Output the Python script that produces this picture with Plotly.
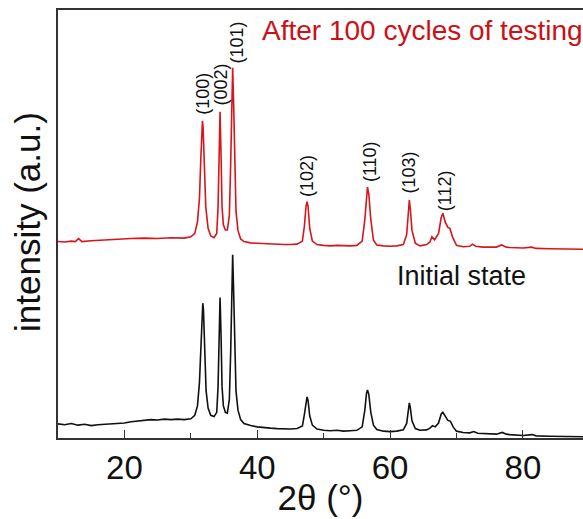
import plotly.graph_objects as go

# ---- data ----
black_x = [10, 11, 12, 13, 14, 15, 16, 17, 18, 19, 20, 21, 22, 23, 24, 25, 26, 27, 28, 29, 30,
           30.6, 31.0, 31.3, 31.5, 31.7, 31.8, 31.9, 32.1, 32.3, 32.6, 33.0, 33.5, 33.9, 34.1,
           34.25, 34.4, 34.55, 34.7, 34.9, 35.2, 35.5, 35.8, 36.0, 36.15, 36.3, 36.45, 36.6,
           36.8, 37.1, 37.5, 38, 39, 40, 41, 42, 43, 44, 45, 46, 46.8, 47.1, 47.35, 47.5,
           47.65, 47.9, 48.3, 49, 50, 51, 52, 53, 54, 55, 55.8, 56.2, 56.45, 56.6, 56.8, 57.1,
           57.5, 58, 59, 60, 61, 62, 62.5, 62.75, 62.9, 63.05, 63.3, 63.8, 64.5, 65.5, 66.0,
           66.4, 66.8, 67.3, 67.7, 67.95, 68.3, 68.7, 69.1, 69.5, 70, 71, 72, 72.6, 73.2, 74,
           75, 76, 76.9, 77.5, 78, 79, 80, 81.4, 82, 84, 86, 88, 89.5]
black_y = [3.3, 3.1, 3.4, 3.0, 3.2, 2.9, 3.1, 3.2, 3.4, 3.4, 3.5, 3.8, 4.0, 4.2, 4.3, 4.2, 4.4, 4.3, 4.4, 4.3, 4.5,
           5.3, 7.5, 13.0, 22.0, 30.0, 31.5, 30.0, 20.0, 11.0, 7.0, 5.3, 5.0, 6.0, 12.0,
           24.0, 32.8, 24.0, 12.0, 7.5, 6.0, 5.8, 9.0, 20.0, 34.0, 42.8, 34.0, 20.0,
           11.0, 6.5, 4.3, 3.4, 2.9, 2.6, 2.4, 2.3, 2.2, 2.1, 2.1, 2.2, 2.8, 5.5, 8.8, 9.6,
           8.8, 5.2, 3.0, 2.1, 1.8, 1.7, 1.8, 1.6, 1.7, 1.8, 2.6, 6.5, 10.4, 11.2, 10.2, 6.0,
           3.0, 2.0, 1.6, 1.5, 1.6, 1.9, 3.4, 7.0, 8.2, 7.1, 4.0, 2.2, 1.8, 1.9, 2.3,
           2.9, 2.6, 3.5, 5.6, 6.0, 5.0, 4.1, 3.9, 2.6, 1.6, 1.3, 1.2, 1.5, 1.1, 1.0,
           0.9, 0.9, 1.3, 0.9, 0.8, 0.7, 0.6, 0.8, 0.5, 0.4, 0.3, 0.3, 0.3]

red_x = [10, 11, 12, 12.6, 13.1, 13.6, 15, 17, 19, 21, 23, 25, 27, 29, 30,
         30.6, 31.0, 31.3, 31.5, 31.65, 31.75, 31.85, 32.0, 32.25, 32.6, 33.0, 33.5, 33.9, 34.1,
         34.25, 34.4, 34.55, 34.7, 34.9, 35.2, 35.5, 35.8, 36.0, 36.15, 36.3, 36.45, 36.6,
         36.8, 37.1, 37.5, 38, 39, 40, 41, 42, 43, 44, 45, 46, 46.8, 47.1, 47.35, 47.5,
         47.65, 47.9, 48.3, 49, 50, 51, 52, 53, 54, 55, 55.8, 56.2, 56.45, 56.6, 56.8, 57.1,
         57.5, 58, 59, 60, 61, 62, 62.5, 62.75, 62.9, 63.05, 63.3, 63.8, 64.5, 65.5, 66.0,
         66.3, 66.7, 67.3, 67.7, 67.95, 68.3, 68.7, 69.0, 69.4, 70, 71, 72, 72.4, 72.9, 74,
         75, 76, 76.8, 77.5, 78, 79, 80, 81.3, 82, 84, 86, 88, 89.5]
red_y = [45.9, 45.8, 46.0, 45.9, 46.6, 45.9, 46.1, 46.3, 46.4, 46.6, 46.7, 46.6, 46.8, 46.7, 47.0,
         47.8, 50.5, 56.0, 65.0, 72.5, 74.1, 72.5, 64.0, 54.0, 49.0, 47.2, 46.8, 47.8, 54.0,
         66.0, 76.2, 66.0, 54.0, 49.8, 48.6, 48.6, 52.0, 64.0, 78.0, 86.5, 78.0, 64.0,
         53.0, 48.5, 46.5, 45.9, 45.6, 45.5, 45.4, 45.3, 45.3, 45.2, 45.2, 45.3, 46.0, 49.5, 54.2, 55.2,
         54.2, 49.0, 46.0, 45.2, 45.0, 44.9, 45.0, 44.9, 44.9, 45.0, 46.0, 51.0, 57.5, 58.6, 57.0, 51.0,
         46.2, 45.1, 44.9, 44.8, 44.9, 45.2, 47.5, 53.5, 55.6, 53.5, 48.5, 45.5, 44.9, 45.2, 45.8,
         47.0, 46.3, 47.8, 51.5, 52.5, 50.5, 49.2, 49.0, 47.0, 45.0, 44.7, 44.8, 45.3, 44.8, 44.6,
         44.6, 44.6, 45.1, 44.6, 44.5, 44.4, 44.4, 44.6, 44.3, 44.2, 44.1, 44.1, 44.1]

peak_labels = ["(100)", "(002)", "(101)", "(102)", "(110)", "(103)", "(112)"]
peak_label_x = [31.8, 34.6, 37.0, 47.5, 57.0, 62.9, 68.3]
peak_label_y = [80.4, 82.7, 92.5, 61.2, 64.5, 62.1, 57.7]

x_ticks = [20, 40, 60, 80]

RED = "#d8141c"
FONT = "Liberation Sans, Arial, sans-serif"

fig = go.Figure()
fig.add_trace(go.Scatter(x=black_x, y=black_y, mode="lines",
                         line=dict(color="#111111", width=1.6), name="Initial state"))
fig.add_trace(go.Scatter(x=red_x, y=red_y, mode="lines",
                         line=dict(color=RED, width=1.6), name="After 100 cycles of testing"))

for t, px, py in zip(peak_labels, peak_label_x, peak_label_y):
    fig.add_annotation(x=px, y=py, xref="x", yref="y", text=t, textangle=-90,
                       showarrow=False, font=dict(size=18, color="#111111", family=FONT))

fig.add_annotation(x=0.385, y=0.953, xref="paper", yref="paper", xanchor="left", yanchor="middle",
                   text="After 100 cycles of testing", showarrow=False,
                   font=dict(size=28, color="#cc1016", family=FONT))
fig.add_annotation(x=0.768, y=0.379, xref="paper", yref="paper", xanchor="center", yanchor="middle",
                   text="Initial state", showarrow=False,
                   font=dict(size=27, color="#111111", family=FONT))
fig.add_annotation(x=-0.057, y=0.505, xref="paper", yref="paper", xanchor="center", yanchor="middle",
                   text="intensity (a.u.)", textangle=-90, showarrow=False,
                   font=dict(size=35, color="#111111", family=FONT))

fig.update_layout(
    width=583, height=519,
    margin=dict(l=58, r=0, t=10, b=81),
    paper_bgcolor="white", plot_bgcolor="white",
    showlegend=False,
    font=dict(family=FONT, color="#111111"),
    xaxis=dict(range=[10, 89.05], tickvals=x_ticks, ticks="inside", ticklen=8, tickwidth=1.2,
               tickcolor="#333333", showline=True, linecolor="#333333", linewidth=1.5,
               mirror=True, showgrid=False, zeroline=False,
               tickfont=dict(size=33, family=FONT, color="#111111"),
               minor=dict(tickvals=[30, 50, 70], ticks="inside", ticklen=5, tickcolor="#333333"),
               title=dict(text="2θ (°)", font=dict(size=35, family=FONT, color="#111111"), standoff=0)),
    yaxis=dict(range=[0, 100], showticklabels=False, ticks="", showline=True,
               linecolor="#333333", linewidth=1.5, showgrid=False, zeroline=False),
)

fig.write_html("out.html")
